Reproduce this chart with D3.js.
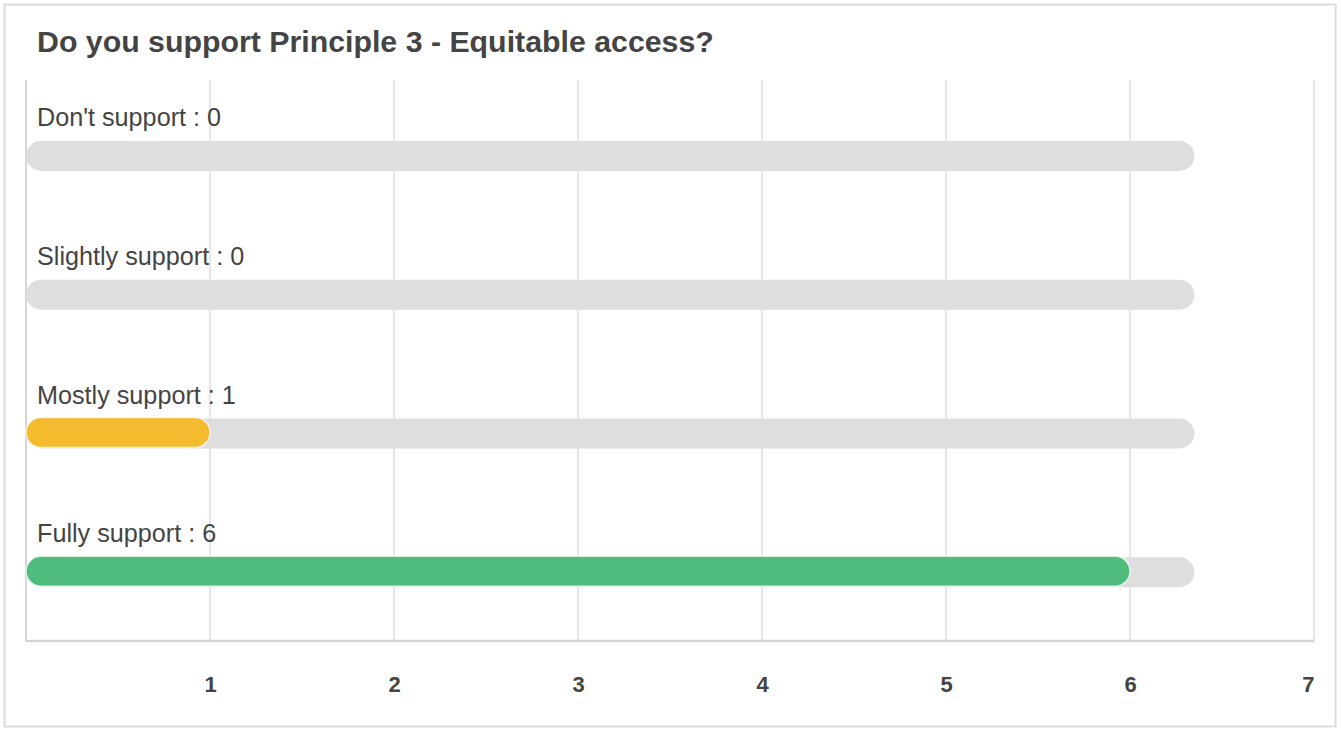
<!DOCTYPE html>
<html><head><meta charset="utf-8">
<script src="https://cdn.jsdelivr.net/npm/d3@7"></script>
<style>
html,body{margin:0;padding:0;background:#fff;}
svg{display:block;font-family:"Liberation Sans",Arial,Helvetica,sans-serif;}
</style></head>
<body>
<svg id="chart" width="1341" height="730"></svg>
<script>
const title = "Do you support Principle 3 - Equitable access?";
const categories = ["Don't support", "Slightly support", "Mostly support", "Fully support"];
const values = [0, 0, 1, 6];
const barColors = ["#e86c5a", "#f39c39", "#f4bb2f", "#50bc7e"];
const trackMax = 6.35;
const tickValues = [1, 2, 3, 4, 5, 6, 7];

(function () {
const svg = d3.select("#chart");

// outer frame
svg.append("rect").attr("x", 4.5).attr("y", 4.5).attr("width", 1331).attr("height", 722)
  .attr("fill", "#fff").attr("stroke", "#dcdcdc").attr("stroke-width", 2);

svg.append("text").attr("x", 37).attr("y", 52).text(title)
  .attr("font-size", 30.3).attr("font-weight", "bold").attr("fill", "#444");

const x = d3.scaleLinear().domain([0, 7]).range([26, 1314]);
const y = d3.scaleBand().domain(categories).range([80, 635]).paddingInner(0).paddingOuter(0);
const plotTop = 80, plotBottom = 641;

// grid
svg.append("g").selectAll("line").data(tickValues).join("line")
  .attr("x1", d => x(d)).attr("x2", d => x(d)).attr("y1", plotTop).attr("y2", plotBottom)
  .attr("stroke", "#dedede").attr("stroke-width", 1.5);
svg.append("line").attr("x1", x(0)).attr("x2", x(0)).attr("y1", plotTop).attr("y2", plotBottom)
  .attr("stroke", "#d6d6d6").attr("stroke-width", 2);
svg.append("line").attr("x1", x(0)).attr("x2", x(7)).attr("y1", plotBottom).attr("y2", plotBottom)
  .attr("stroke", "#d3d3d3").attr("stroke-width", 2.5);

// axis labels
const axis = d3.axisBottom(x).tickValues(tickValues).tickSize(0).tickPadding(0).tickFormat(d3.format("d"));
const ag = svg.append("g").attr("transform", `translate(0,${plotBottom})`).call(axis);
ag.select(".domain").remove();
ag.selectAll("text").attr("font-size", 22).attr("font-weight", "bold").attr("fill", "#444")
  .attr("font-family", "Liberation Sans, Arial, sans-serif").attr("dy", null).attr("y", 51)
  .attr("text-anchor", (d, i, n) => i === n.length - 1 ? "end" : "middle");

const bh = 30;
categories.forEach((c, i) => {
  const cy = y(c) + 76;
  const g = svg.append("g");
  g.append("text").attr("x", 37).attr("y", cy - 30).text(`${c} : ${values[i]}`)
    .attr("font-size", 25.2).attr("fill", "#444");
  g.append("rect").attr("x", x(0)).attr("y", cy - bh / 2).attr("width", x(trackMax) - x(0)).attr("height", bh)
    .attr("rx", bh / 2).attr("fill", "#dedede");
  if (values[i] > 0) {
    g.append("rect").attr("x", x(0)).attr("y", cy - bh / 2 - 1).attr("width", x(values[i]) - x(0)).attr("height", bh)
      .attr("rx", bh / 2).attr("fill", barColors[i]).attr("stroke", "#fff").attr("stroke-opacity", 0.7).attr("stroke-width", 1.5);
  }
});
})();
</script>
</body></html>
